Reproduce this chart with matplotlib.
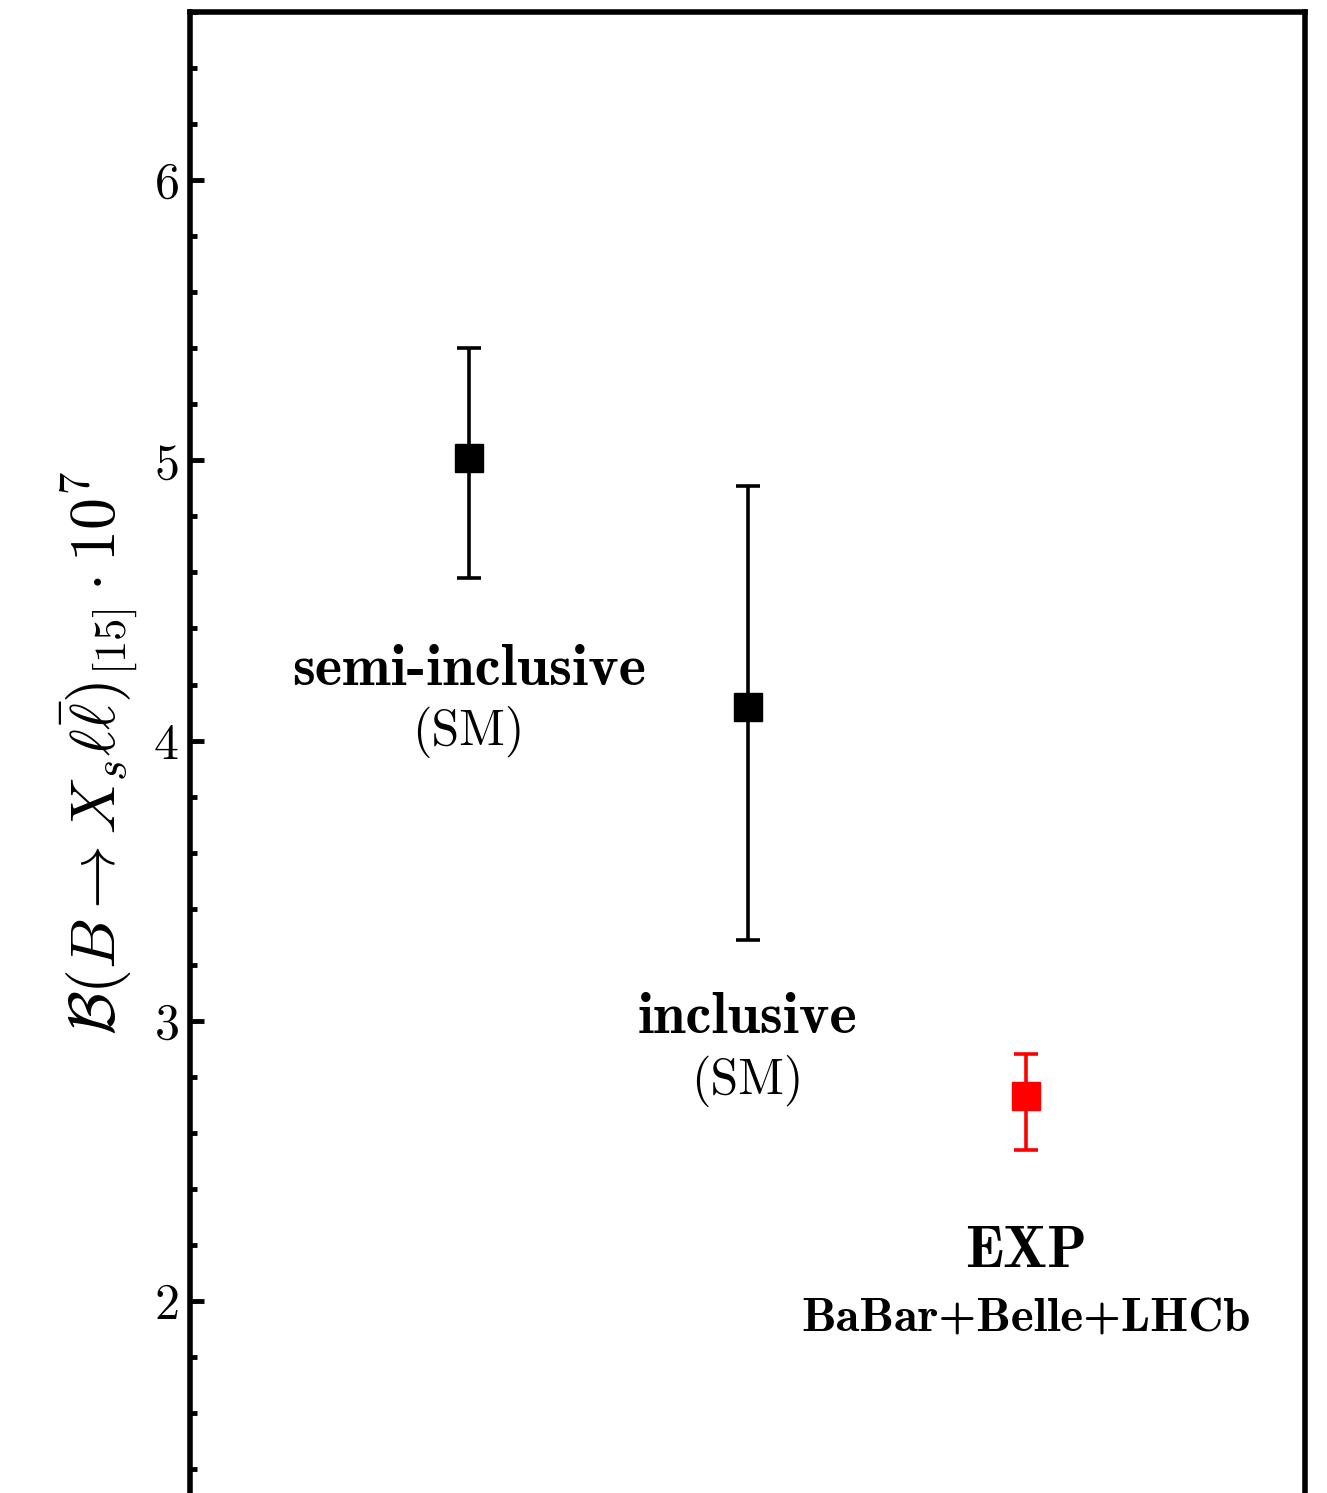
import matplotlib
matplotlib.use('Agg')
import matplotlib.pyplot as plt
from matplotlib.ticker import MultipleLocator

plt.rcParams['mathtext.fontset'] = 'cm'
plt.rcParams['font.family'] = 'cmr10'
plt.rcParams['axes.formatter.use_mathtext'] = True

# central values and errors (x 10^7)
positions = [1, 2, 3]
values = [5.01, 4.12, 2.73]
err_up = [0.39, 0.79, 0.15]
err_down = [0.43, 0.83, 0.19]
colors = ['black', 'black', 'red']
names = ['semi-inclusive', 'inclusive', 'EXP']
subnames = ['(SM)', '(SM)', 'BaBar+Belle+LHCb']
label_y = [4.2, 2.955, 2.12]
sub_offset = [0.215, 0.215, 0.23]

fig = plt.figure(figsize=(13.27, 14.93), dpi=100)
ax = fig.add_axes([190/1327, 0.0, 1115/1327, 1 - 12/1493])

for x, v, eu, ed, c in zip(positions, values, err_up, err_down, colors):
	ax.errorbar([x], [v], yerr=[[ed], [eu]], fmt='s', color=c, ms=20,
		mec=c, elinewidth=2.6, capsize=8.5, capthick=2.6)

for i in range(3):
	ax.text(positions[i], label_y[i], names[i], family='cmb10', fontsize=42,
		ha='center', va='baseline')
	if i < 2:
		ax.text(positions[i], label_y[i] - sub_offset[i], subnames[i], fontsize=36,
			ha='center', va='baseline')
	else:
		ax.text(positions[i], label_y[i] - sub_offset[i], subnames[i], family='cmb10',
			fontsize=35, ha='center', va='baseline')

ax.set_xlim(0, 4)
ax.set_ylim(1.315, 6.6)
ax.set_xticks([])
ax.yaxis.set_major_locator(MultipleLocator(1))
ax.yaxis.set_minor_locator(MultipleLocator(0.2))
ax.tick_params(axis='y', which='major', direction='in', length=10, width=3.5,
	labelsize=36, right=False, pad=8)
ax.tick_params(axis='y', which='minor', direction='in', length=5, width=3.5, right=False)
for side in ['left', 'right', 'top']:
	ax.spines[side].set_linewidth(4)
ax.spines['bottom'].set_visible(False)

ax.set_ylabel(r'$\mathcal{B}(B\to X_s\ell\bar{\ell})_{[15]}\cdot 10^7$', fontsize=46, labelpad=10)

fig.savefig('out.png', dpi=100)
